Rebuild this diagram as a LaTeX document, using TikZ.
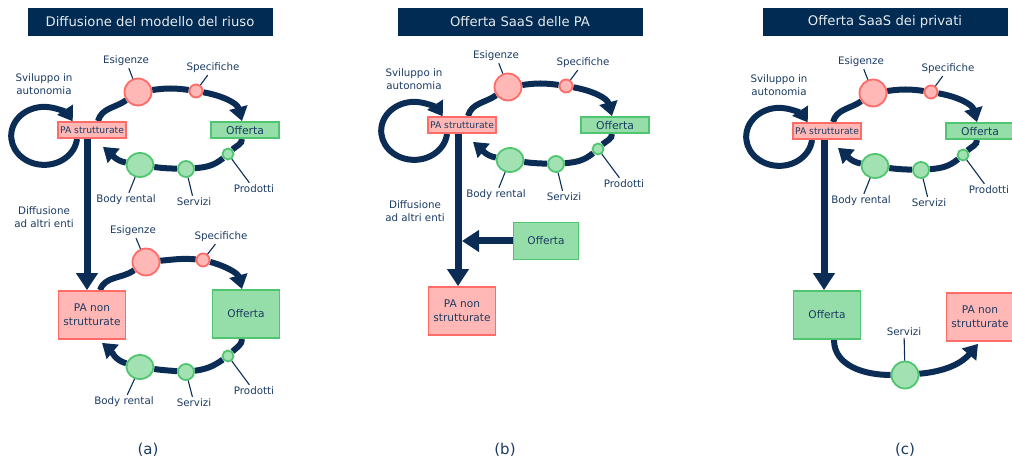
\documentclass[tikz,border=0pt]{standalone}
\usepackage{fontspec}
\setmainfont{DejaVu Sans}
\usepackage{xcolor}
\usepackage{tikz}
\usetikzlibrary{arrows.meta,positioning,calc,shapes.geometric,backgrounds}
\definecolor{navy}{HTML}{0B2D55}
\definecolor{ink}{HTML}{1B3B62}
\definecolor{barfill}{HTML}{012B52}
\definecolor{rose}{HTML}{FFB8B6}
\definecolor{roseline}{HTML}{FF6B66}
\definecolor{mint}{HTML}{96DEA9}
\definecolor{beadmint}{HTML}{A2E2B2}
\definecolor{mintline}{HTML}{50C570}
\tikzset{
  headbar/.style={fill=barfill, text=white!90!barfill, minimum width=245pt, minimum height=28pt,
                  inner sep=0pt, font=\fontsize{13.2}{15}\selectfont},
  pabox/.style={draw=roseline, fill=rose, line width=1.8pt, text=ink, inner sep=1pt, align=center},
  offbox/.style={draw=mintline, fill=mint, line width=1.8pt, text=ink, inner sep=1pt, align=center},
  smallbox/.style={minimum width=68pt, minimum height=16pt},
  bigbox/.style={minimum width=67pt, minimum height=48pt, font=\fontsize{10.6}{14}\selectfont},
  redbead/.style={circle, draw=roseline, fill=rose, line width=1.8pt, inner sep=0pt},
  greenbead/.style={ellipse, draw=mintline, fill=beadmint, line width=1.8pt, inner sep=0pt},
  tag/.style={text=ink, font=\fontsize{10.3}{13.5}\selectfont, inner sep=2pt, align=center},
  ring/.style={draw=navy, line width=6pt},
  flow/.style={ring, -{Triangle[width=18pt,length=14pt]}},
  trunk/.style={draw=navy, line width=7pt, -{Triangle[width=21pt,length=17pt]}},
  leader/.style={draw=navy, line width=1.1pt},
  panel/.style={text=ink, font=\fontsize{15}{17}\selectfont},
}
% the reuse cycle round "PA strutturate", drawn at the place of panel (a)
\newcommand{\reusecycle}[1]{%
  \node[pabox, smallbox, font=\fontsize{9.2}{10}\selectfont] (#1pa) at (92,330) {PA strutturate};
  \node[offbox, smallbox, font=\fontsize{10.8}{12}\selectfont] (#1of) at (245,330) {Offerta};
  \node[redbead, minimum size=27pt] (#1es) at (138,368) {};
  \node[redbead, minimum size=13pt] (#1sp) at (196,369) {};
  \node[greenbead, minimum width=27pt, minimum height=24pt] (#1br) at (140,295) {};
  \node[greenbead, minimum size=16pt] (#1sv) at (186,291) {};
  \node[greenbead, minimum size=11pt] (#1pr) at (228,306) {};
  \node[tag] (#1esl) at (126,399) {Esigenze};
  \node[tag] (#1spl) at (213,392) {Specifiche};
  \node[tag] (#1brl) at (126,260) {Body rental};
  \node[tag] (#1svl) at (194,258) {Servizi};
  \node[tag] (#1prl) at (254,271) {Prodotti};
  \node[tag] (#1own) at (44,376) {Sviluppo in\\autonomia};
  \begin{pgfonlayer}{background}
    \draw[ring] ([xshift=6pt]#1pa.north) to[out=75,in=215] (#1es);
    \draw[ring] (#1es) to[out=8,in=172] (#1sp);
    \draw[flow] (#1sp) to[out=-10,in=105] ([xshift=-3pt]#1of.north);
    \draw[ring] ([xshift=-3pt]#1of.south) to[out=-90,in=45] (#1pr);
    \draw[ring] (#1pr) to[out=-140,in=5] (#1sv);
    \draw[ring] (#1sv) to[out=178,in=-8] (#1br);
    \draw[flow] (#1br) to[out=170,in=-40] ([xshift=11pt,yshift=-8pt]#1pa.south);
    \draw[flow] ([xshift=-15pt]#1pa.south) arc[start angle=-6, end angle=-330, x radius=33pt, y radius=29pt];
  \end{pgfonlayer}
  \draw[leader] (#1es) -- (#1esl);
  \draw[leader] (#1sp) -- (#1spl);
  \draw[leader] (#1br) -- (#1brl);
  \draw[leader] (#1sv) -- (#1svl);
  \draw[leader] (#1pr) -- (#1prl);
}

\begin{document}
\begin{tikzpicture}[x=1pt,y=1pt]
  \useasboundingbox (0,0) rectangle (1012,460);
  % (a) Diffusione del modello del riuso
  \node[headbar] (atitle) at (150,438) {Diffusione del modello del riuso};
  \reusecycle{a}
  \node[pabox, bigbox] (apn) at (92,145) {PA non\\strutturate};
  \node[offbox, bigbox] (aof2) at (246,146) {Offerta};
  \node[redbead, minimum size=27pt] (aes2) at (146,198) {};
  \node[redbead, minimum size=13pt] (asp2) at (203,200) {};
  \node[greenbead, minimum width=27pt, minimum height=24pt] (abr2) at (140,93) {};
  \node[greenbead, minimum size=16pt] (asv2) at (186,88) {};
  \node[greenbead, minimum size=11pt] (apr2) at (228,104) {};
  \node[tag] (aesl2) at (133,229) {Esigenze};
  \node[tag] (aspl2) at (221,223) {Specifiche};
  \node[tag] (abrl2) at (124,58) {Body rental};
  \node[tag] (asvl2) at (194,57) {Servizi};
  \node[tag] (aprl2) at (254,69) {Prodotti};
  \node[tag] (adiff) at (44,243) {Diffusione\\ad altri enti};
  \begin{pgfonlayer}{background}
    \draw[trunk] ([xshift=-5pt]apa.south) -- ([xshift=-5pt]apn.north);
    \draw[ring] ([xshift=8pt]apn.north) to[out=70,in=215] (aes2);
    \draw[ring] (aes2) to[out=5,in=175] (asp2);
    \draw[flow] (asp2) to[out=-15,in=105] ([xshift=-4pt]aof2.north);
    \draw[ring] ([xshift=-4pt]aof2.south) to[out=-90,in=45] (apr2);
    \draw[ring] (apr2) to[out=-145,in=8] (asv2);
    \draw[ring] (asv2) to[out=175,in=-8] (abr2);
    \draw[flow] (abr2) to[out=165,in=-40] ([xshift=10pt,yshift=-3pt]apn.south);
  \end{pgfonlayer}
  \draw[leader] (aes2) -- (aesl2);
  \draw[leader] (asp2) -- (aspl2);
  \draw[leader] (abr2) -- (abrl2);
  \draw[leader] (asv2) -- (asvl2);
  \draw[leader] (apr2) -- (aprl2);
  \node[panel] (alabel) at (148,10) {(a)};

  % (b) Offerta SaaS delle PA
  \node[headbar] (btitle) at (520,438) {Offerta SaaS delle PA};
  \begin{scope}[shift={(370,5)}]
    \reusecycle{b}
  \end{scope}
  \node[pabox, bigbox] (bpn) at (462,149) {PA non\\strutturate};
  \node[offbox, bigbox, minimum width=65pt, minimum height=37pt] (bof2) at (546,219) {Offerta};
  \node[tag] (bdiff) at (415,249) {Diffusione\\ad altri enti};
  \coordinate (bjoin) at (462,219);
  \begin{pgfonlayer}{background}
    \draw[trunk] ([xshift=-4pt]bpa.south) -- ([xshift=-4pt]bpn.north);
  \end{pgfonlayer}
  \draw[trunk] (bof2.west) -- (bjoin);
  \node[panel] (blabel) at (505,10) {(b)};

  % (c) Offerta SaaS dei privati
  \node[headbar] (ctitle) at (885,438) {Offerta SaaS dei privati};
  \begin{scope}[shift={(735,-1)}]
    \reusecycle{c}
  \end{scope}
  \node[offbox, bigbox] (cof2) at (827,145) {Offerta};
  \node[pabox, bigbox] (cpn) at (980,143) {PA non\\strutturate};
  \node[greenbead, minimum size=27pt] (csv2) at (905,85) {};
  \node[tag] (csvl2) at (904,128) {Servizi};
  \begin{pgfonlayer}{background}
    \draw[trunk] ([xshift=-3pt]cpa.south) -- ([xshift=-3pt]cof2.north);
    \draw[ring] ([xshift=7pt]cof2.south) to[out=-90,in=180] (csv2);
    \draw[flow] (csv2) to[out=5,in=-130] ([xshift=-2pt,yshift=-2pt]cpn.south);
  \end{pgfonlayer}
  \draw[leader] (csv2) -- (csvl2);
  \node[panel] (clabel) at (905,10) {(c)};
\end{tikzpicture}
\end{document}
